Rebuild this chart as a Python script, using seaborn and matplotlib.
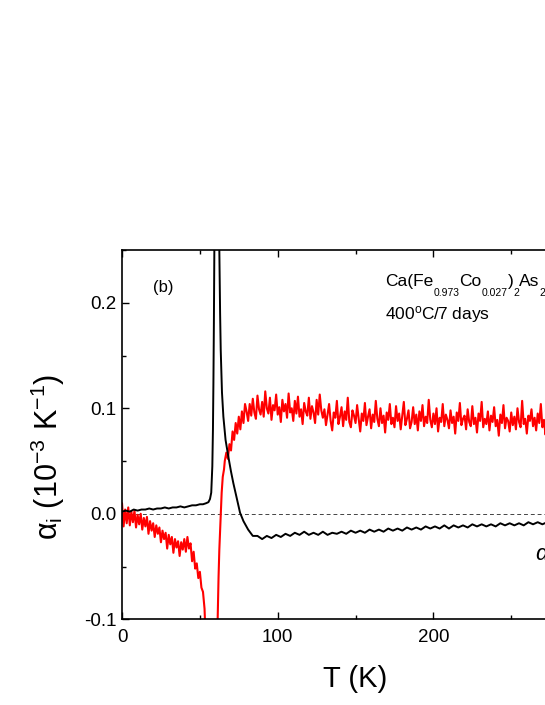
import numpy as np
import pandas as pd
import matplotlib
matplotlib.use('Agg')
import matplotlib.pyplot as plt
import seaborn as sns
from matplotlib.ticker import MultipleLocator, FormatStrFormatter
from matplotlib.transforms import IdentityTransform

# setup
sns.set_theme(style='ticks')
plt.rcParams['font.family'] = ['Liberation Sans', 'DejaVu Sans']
plt.rcParams['mathtext.fontset'] = 'custom'
plt.rcParams['mathtext.rm'] = 'Liberation Sans'
plt.rcParams['mathtext.it'] = 'Liberation Sans:italic'
plt.rcParams['axes.unicode_minus'] = False
plt.rcParams['text.color'] = 'black'
plt.rcParams['axes.labelcolor'] = 'black'

# black curve (alpha_c)
T_c_low = [0, 2.5, 5, 7.5, 10, 12.5, 15, 17.5, 20, 22.5, 25, 27.5, 30, 32.5,
           35, 37.5, 40, 42.5, 45, 47.5, 50, 52, 54, 55.5, 56.5, 57.3, 58.0,
           58.4, 58.7, 59.0, 59.3, 60.0, 62.0, 62.5, 63.0, 63.4, 64.2, 65.1,
           66.5, 68.3, 70, 71.5, 73.5, 75.8, 78]
alpha_c_low = [0.002, 0.003, 0.002, 0.004, 0.003, 0.004, 0.004, 0.005, 0.004,
               0.005, 0.005, 0.006, 0.005, 0.006, 0.006, 0.007, 0.006, 0.007,
               0.008, 0.008, 0.009, 0.009, 0.010, 0.011, 0.014, 0.020, 0.045,
               0.080, 0.124, 0.180, 0.250, 0.500, 0.500, 0.250, 0.190, 0.155,
               0.115, 0.092, 0.070, 0.054, 0.040, 0.029, 0.016, 0.001, -0.007]
T_c_high = list(range(81, 301, 3))
alpha_c_high = [-0.015, -0.021, -0.021, -0.024, -0.021, -0.023, -0.020, -0.022,
                -0.019, -0.021, -0.018, -0.020, -0.017, -0.020, -0.018, -0.020,
                -0.017, -0.020, -0.018, -0.019, -0.017, -0.019, -0.016, -0.018,
                -0.016, -0.018, -0.015, -0.017, -0.015, -0.017, -0.014, -0.016,
                -0.014, -0.016, -0.013, -0.015, -0.013, -0.015, -0.012, -0.014,
                -0.012, -0.014, -0.011, -0.014, -0.011, -0.013, -0.011, -0.013,
                -0.010, -0.012, -0.010, -0.012, -0.010, -0.012, -0.009, -0.011,
                -0.009, -0.011, -0.009, -0.011, -0.008, -0.010, -0.008, -0.010,
                -0.008, -0.009, -0.007, -0.009, -0.007, -0.009, -0.007, -0.008,
                -0.006, -0.008]

# red curve (alpha_a), low-T part, 1 K steps
T_a_low = list(range(0, 55))
alpha_a_low = [0.010, -0.012, 0.004, -0.009, 0.006, -0.011, 0.002, -0.008,
               0.003, -0.013, -0.001, -0.010, 0.000, -0.015, -0.004, -0.012,
               -0.003, -0.019, -0.007, -0.016, -0.009, -0.022, -0.011, -0.019,
               -0.013, -0.027, -0.016, -0.024, -0.018, -0.033, -0.020, -0.029,
               -0.022, -0.037, -0.024, -0.032, -0.026, -0.040, -0.027, -0.034,
               -0.024, -0.036, -0.022, -0.033, -0.028, -0.045, -0.036, -0.052,
               -0.047, -0.061, -0.055, -0.070, -0.074, -0.090, -0.130]

# red curve, transition
T_a_mid = [61.0, 62.0, 62.5, 63.4, 64.0, 64.7, 65.5, 66, 67, 68, 69, 70, 71,
           72, 73, 74, 75, 76, 77, 78, 79]
alpha_a_mid = [-0.130, -0.060, -0.034, 0.000, 0.020, 0.035, 0.042, 0.050,
               0.058, 0.052, 0.066, 0.060, 0.078, 0.070, 0.086, 0.076, 0.092,
               0.080, 0.097, 0.086, 0.104]

# red curve, plateau, 1 K steps
T_a_high = list(range(80, 281))
alpha_a_high = [
    0.097, 0.088, 0.104, 0.093, 0.109, 0.096, 0.090, 0.112, 0.099, 0.094,
    0.106, 0.092, 0.116, 0.100, 0.095, 0.110, 0.089, 0.103, 0.098, 0.113,
    0.094, 0.101, 0.087, 0.108, 0.097, 0.104, 0.091, 0.114, 0.096, 0.100,
    0.088, 0.107, 0.095, 0.111, 0.092, 0.099, 0.085, 0.105, 0.097, 0.093,
    0.110, 0.090, 0.102, 0.096, 0.086, 0.108, 0.094, 0.113, 0.098, 0.091,
    0.099, 0.084, 0.094, 0.104, 0.088, 0.079, 0.096, 0.091, 0.107, 0.085,
    0.092, 0.101, 0.083, 0.097, 0.089, 0.110, 0.087, 0.082, 0.098, 0.093,
    0.086, 0.103, 0.090, 0.078, 0.095, 0.088, 0.105, 0.084, 0.092, 0.099,
    0.081, 0.094, 0.087, 0.107, 0.090, 0.083, 0.100, 0.086, 0.093, 0.077,
    0.096, 0.089, 0.104, 0.085, 0.091, 0.082, 0.102, 0.088, 0.095, 0.080,
    0.093, 0.106, 0.084, 0.090, 0.098, 0.081, 0.087, 0.101, 0.085, 0.094,
    0.079, 0.097, 0.088, 0.103, 0.083, 0.092, 0.086, 0.108, 0.089, 0.082,
    0.095, 0.085, 0.100, 0.078, 0.091, 0.087, 0.104, 0.083, 0.094, 0.089,
    0.081, 0.098, 0.086, 0.092, 0.076, 0.096, 0.088, 0.105, 0.084, 0.090,
    0.093, 0.080, 0.099, 0.087, 0.083, 0.102, 0.085, 0.091, 0.077, 0.095,
    0.088, 0.106, 0.082, 0.090, 0.085, 0.097, 0.079, 0.093, 0.087, 0.101,
    0.083, 0.089, 0.074, 0.094, 0.086, 0.103, 0.081, 0.091, 0.088, 0.078,
    0.096, 0.084, 0.092, 0.080, 0.100, 0.087, 0.082, 0.107, 0.085, 0.090,
    0.076, 0.093, 0.088, 0.099, 0.083, 0.091, 0.079, 0.095, 0.086, 0.104,
    0.082, 0.089, 0.075, 0.094, 0.087, 0.108, 0.081, 0.092, 0.085, 0.098,
    0.083]

formula_parts = [('Ca(Fe', 'n'), ('0.973', 's'), ('Co', 'n'), ('0.027', 's'),
                 (')', 'n'), ('2', 's'), ('As', 'n'), ('2', 's')]

df_c = pd.DataFrame({'T': T_c_low + T_c_high,
                     'alpha': alpha_c_low + alpha_c_high})
df_a = pd.DataFrame({'T': T_a_low + T_a_mid + T_a_high,
                     'alpha': alpha_a_low + alpha_a_mid + alpha_a_high})

fig = plt.figure(figsize=(5.45, 7.05), dpi=100)
# axes runs past the right edge, like the cropped original
ax = fig.add_axes([0.2239, 0.1216, 0.857, 0.5238])

ax.axhline(0, color='#444444', lw=0.7, ls=(0, (4, 3)), zorder=1)
sns.lineplot(data=df_c, x='T', y='alpha', color='black', lw=1.4,
             estimator=None, ax=ax, zorder=3)
sns.lineplot(data=df_a, x='T', y='alpha', color='red', lw=1.5,
             estimator=None, ax=ax, zorder=2)

ax.set_xlim(0, 300)
ax.set_ylim(-0.1, 0.25)
ax.xaxis.set_major_locator(MultipleLocator(100))
ax.xaxis.set_minor_locator(MultipleLocator(50))
ax.yaxis.set_major_locator(MultipleLocator(0.1))
ax.yaxis.set_minor_locator(MultipleLocator(0.05))
ax.yaxis.set_major_formatter(FormatStrFormatter('%.1f'))
ax.tick_params(which='both', direction='in', top=True, right=True,
               colors='black', labelsize=13.5)
ax.tick_params(which='major', length=5, width=1)
ax.tick_params(which='minor', length=3, width=1)
ax.tick_params(axis='x', pad=7)
ax.tick_params(axis='y', pad=4)
for s in ax.spines.values():
    s.set_color('black')
    s.set_linewidth(1.2)

ax.set_xlabel('T (K)', fontsize=21, labelpad=14)
ax.set_ylabel(r'$\mathregular{\alpha_i}$ (10$^{-3}$ K$^{-1}$)', fontsize=22)
ax.yaxis.set_label_coords(-0.118, 0.44)

ax.text(19.7, 0.2147, '(b)', fontsize=12, va='center', ha='left')
ax.text(169, 0.184, r'400$^{\rm o}$C/7 days', fontsize=12.5, va='baseline',
        ha='left')
ax.text(265.3, -0.040, r'$\alpha_c$', fontsize=16, va='center', ha='left',
        color='black')
ax.text(271, 0.1365, r'$\alpha_a$', fontsize=16, va='center', ha='left',
        color='red')

# formula with low-set subscripts, laid out piece by piece
fig.canvas.draw()
renderer = fig.canvas.get_renderer()
x0, y0 = ax.transData.transform((169, 0.2155))
for piece, kind in formula_parts:
    size = 12.5 if kind == 'n' else 7.5
    dy = 0 if kind == 'n' else -10
    t = fig.text(x0, y0 + dy, piece, fontsize=size, va='baseline', ha='left',
                 color='black', transform=IdentityTransform())
    x0 += t.get_window_extent(renderer).width

plt.savefig('out.png', dpi=100)
